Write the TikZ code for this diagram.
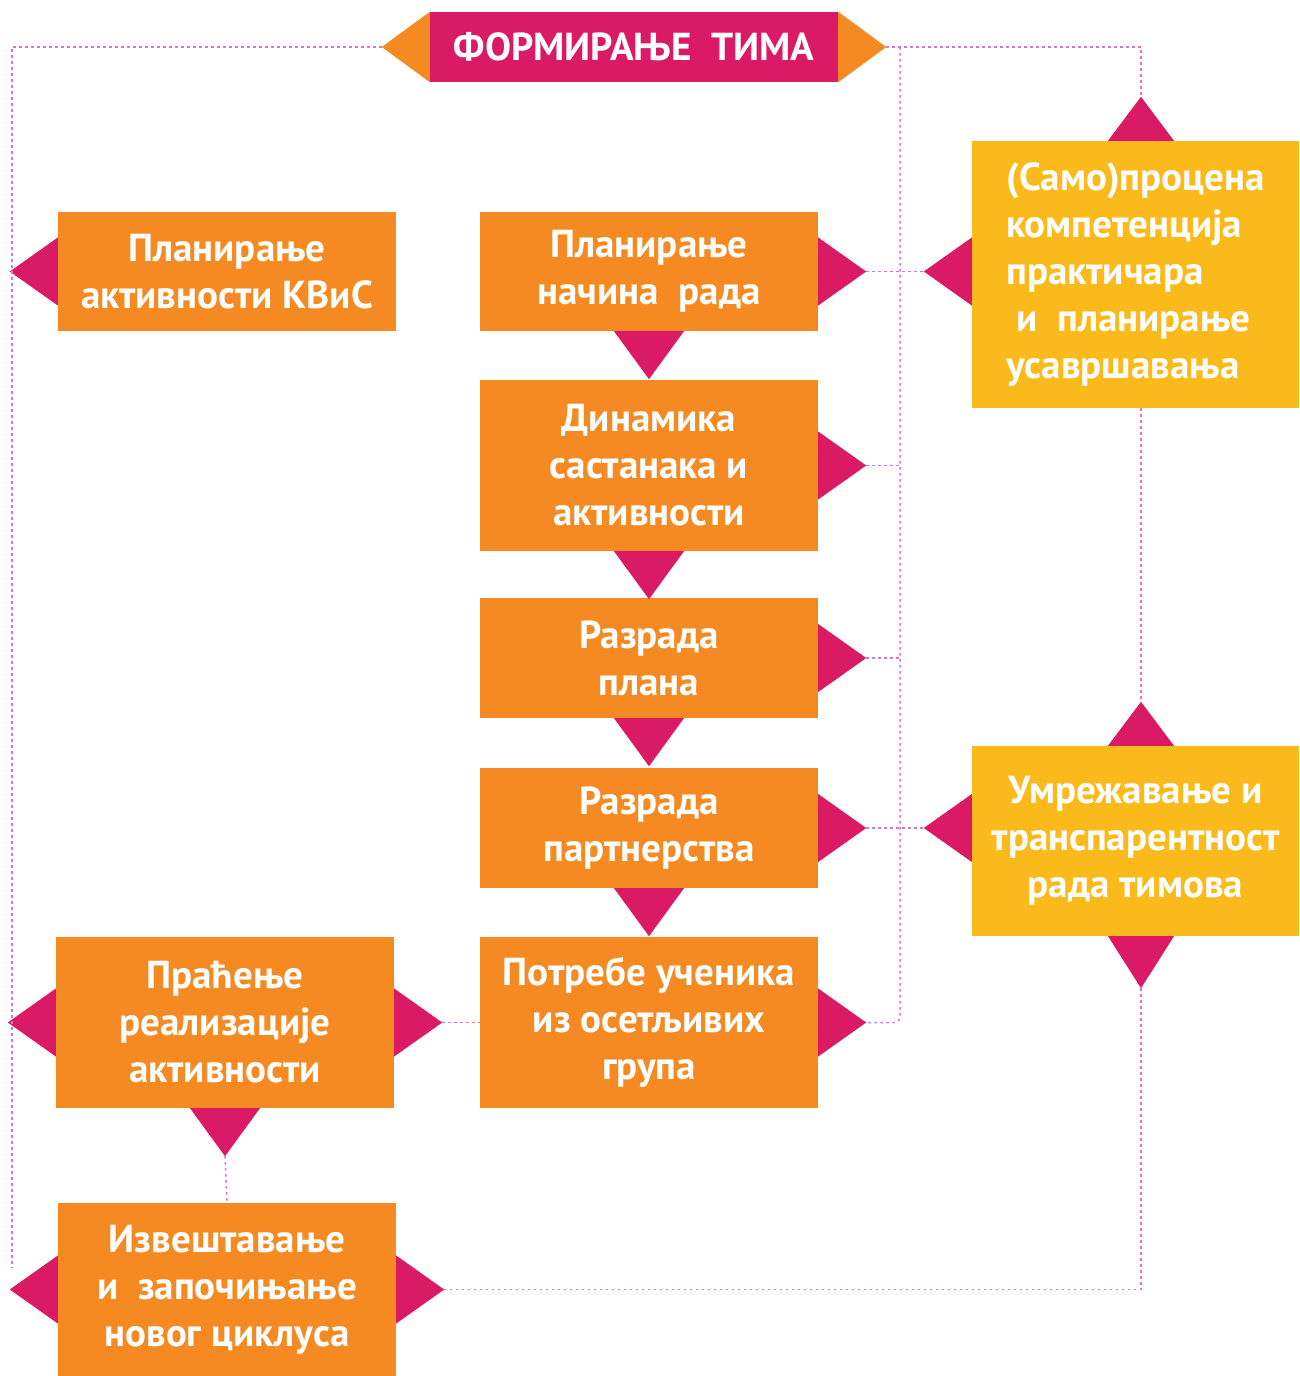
\documentclass[tikz,border=0pt]{standalone}
\usepackage{fontspec}
\setmainfont{PT Sans}
\definecolor{orng}{HTML}{F58A22}
\definecolor{mag}{HTML}{DA1A64}
\definecolor{yel}{HTML}{FBBA1B}
\definecolor{dotc}{RGB}{214,120,200}
\begin{document}
\begin{tikzpicture}[x=1pt,y=-1pt,
  box/.style={fill=orng,draw=none,minimum width=338pt,inner sep=0pt,align=center,text=white,font=\fontsize{39}{47}\selectfont\bfseries},
  ybox/.style={box,fill=yel,minimum width=327pt},
  dotl/.style={draw=dotc,line width=1.5pt,dash pattern=on 2.5pt off 3.5pt}
]
\useasboundingbox (0,0) rectangle (1299,1376);
% nodes
\node[box,fill=mag,minimum width=408pt,minimum height=70pt,font=\fontsize{39}{40}\selectfont\bfseries] (title) at (634,47) {ФОРМИРАЊЕ\ \ ТИМА};
\node[box,minimum height=119pt] (kvis) at (227,271.5) {Планирање\\активности КВиС};
\node[box,minimum height=119pt] (pnr) at (649,271.5) {Планирање\\начина\ \ рада};
\node[box,minimum height=171pt] (din) at (649,465.5) {Динамика\\састанака и\\активности};
\node[box,minimum height=120pt] (rp) at (649,658) {Разрада\\плана};
\node[box,minimum height=120pt] (rpart) at (649,828) {Разрада\\партнерства};
\node[box,minimum height=171pt] (potr) at (649,1022.5) {Потребе ученика\\из осетљивих\\група};
\node[ybox,minimum height=267pt,align=left] (self) at (1135.5,274.5) {(Само)процена\\компетенција\\практичара\\\ и\ \ планирање\\усавршавања};
\node[ybox,minimum height=190pt] (umr) at (1135.5,841) {Умрежавање и\\транспарентност\\рада тимова};
\node[box,minimum height=171pt] (prac) at (225,1022.5) {Праћење\\реализације\\активности};
\node[box,minimum height=173pt] (izv) at (227,1289.5) {Извештавање\\и\ \ започињање\\новог циклуса};
% triangle tips
\coordinate (tL) at ([xshift=-48pt]title.west);
\coordinate (tR) at ([xshift=48pt]title.east);
\fill[orng] (title.north west) -- (tL) -- (title.south west) -- cycle;
\fill[orng] (title.north east) -- (tR) -- (title.south east) -- cycle;
\foreach \n in {pnr,din,rp,rpart,potr,prac,izv}{
  \coordinate (\n R) at ([xshift=48pt]\n.east);
  \fill[mag] ([yshift=34pt]\n.east) -- (\n R) -- ([yshift=-34pt]\n.east) -- cycle;
}
\foreach \n in {kvis,prac,izv}{
  \coordinate (\n L) at ([xshift=-48pt]\n.west);
  \fill[mag] ([yshift=34pt]\n.west) -- (\n L) -- ([yshift=-34pt]\n.west) -- cycle;
}
% left triangles of the yellow boxes, level with their partners
\coordinate (selfW) at (self.west |- pnr.east);
\coordinate (umrW) at (umr.west |- rpart.east);
\foreach \n in {self,umr}{
  \coordinate (\n L) at ([xshift=-48pt]\n W);
  \fill[mag] ([yshift=34pt]\n W) -- (\n L) -- ([yshift=-34pt]\n W) -- cycle;
}
\foreach \n in {pnr,din,rp,rpart,prac}{
  \coordinate (\n D) at ([yshift=-48pt]\n.south);
  \fill[mag] ([xshift=-35pt]\n.south) -- (\n D) -- ([xshift=35pt]\n.south) -- cycle;
}
\foreach \n in {self,umr}{
  \coordinate (\n U) at ([xshift=5.5pt,yshift=44pt]\n.north);
  \fill[mag] ([xshift=-27.5pt]\n.north) -- (\n U) -- ([xshift=38.5pt]\n.north) -- cycle;
}
\coordinate (umrD) at ([xshift=5.5pt,yshift=-52pt]umr.south);
\fill[mag] ([xshift=-27.5pt]umr.south) -- (umrD) -- ([xshift=38.5pt]umr.south) -- cycle;
% connector helper coordinates
\coordinate (bus) at (900,47);
\coordinate (leftend) at (12,1268);
\coordinate (selfB) at ([xshift=5.5pt]self.south);
% dotted connectors
\draw[dotl] (tL) -| (leftend);
\draw[dotl] (tR) -| (selfU);
\draw[dotl,rounded corners=6pt] (bus) |- (potrR);
\draw[dotl] (pnrR) -- (selfL);
\draw[dotl] (dinR) -- (dinR -| bus);
\draw[dotl] (rpR) -- (rpR -| bus);
\draw[dotl] (rpartR) -- (umrL);
\draw[dotl] (selfB) -- (umrU);
\draw[dotl] (umrD) |- (izvR);
\draw[dotl] (pracR) -- (potr.west);
\draw[dotl] (pracD) -- (izv.north);
\end{tikzpicture}
\end{document}
